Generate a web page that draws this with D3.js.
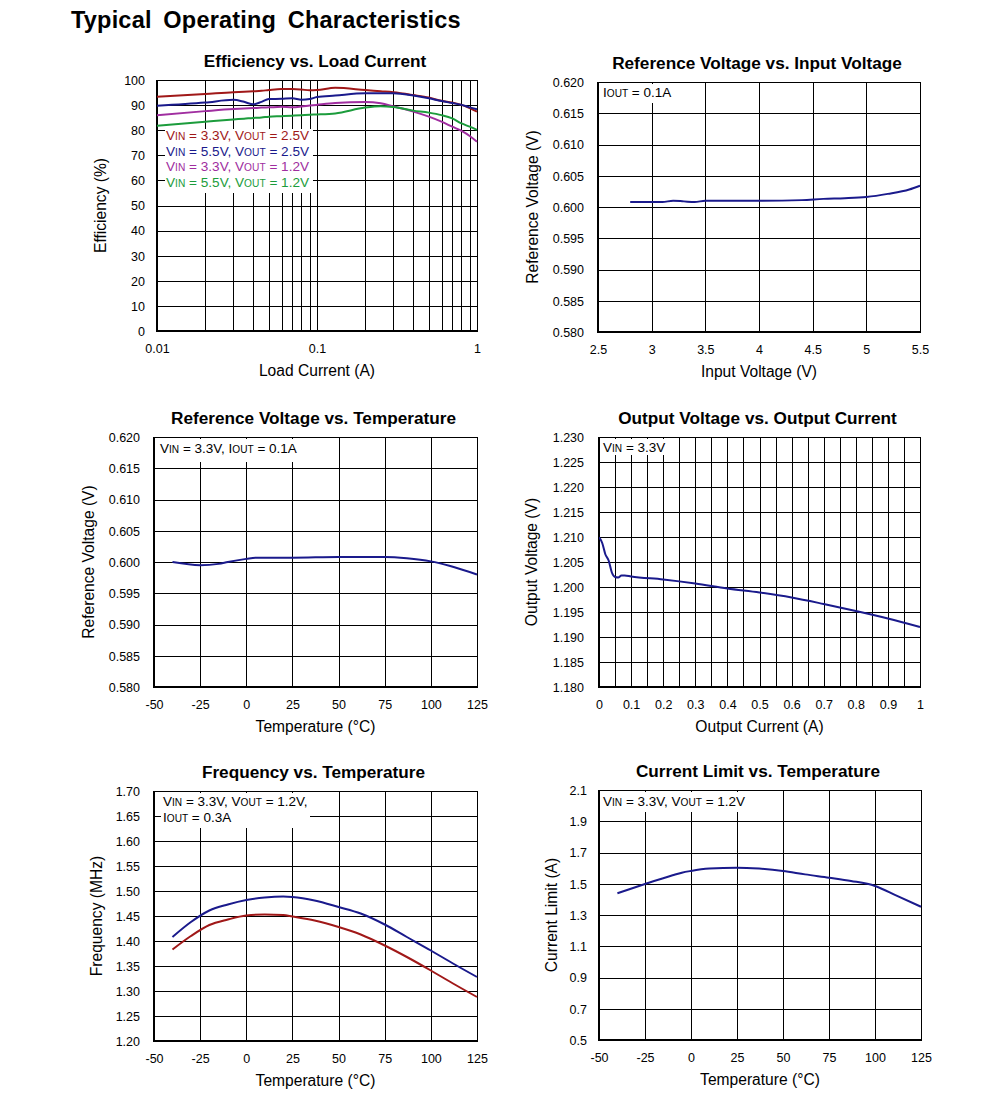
<!DOCTYPE html>
<html><head><meta charset="utf-8">
<script src="https://cdn.jsdelivr.net/npm/d3@7"></script>
<style>
body{margin:0;background:#fff;}
svg{display:block;font-family:"Liberation Sans",Arial,sans-serif;}
</style></head>
<body><svg id="c" width="991" height="1103"></svg>
<script>
// ---------- DATA ----------
const effLoad = [0.01,0.02,0.03,0.035,0.04,0.045,0.05,0.06,0.07,0.08,0.09,0.1,0.13,0.2,0.25,0.3,0.4,0.5,0.6,0.7,0.8,0.9,1.0];
const effVin33Vout25 = [93.3,94.4,95.1,95.3,95.5,95.7,96.0,96.4,96.4,96.2,95.9,96.0,96.9,96.0,95.5,95.1,94.0,93.0,91.7,91.0,90.1,88.8,87.4];
const effVin55Vout25 = [89.7,91.0,92.1,91.3,90.3,91.3,92.4,92.5,92.7,92.1,92.4,93.2,93.8,94.7,94.7,94.7,93.8,92.7,91.6,90.8,90.1,89.1,88.3];
const effVin33Vout12 = [86.0,87.6,88.4,88.6,88.8,89.0,89.1,89.3,89.1,89.4,89.8,90.1,90.8,91.2,90.7,89.5,87.4,85.4,83.4,81.4,79.7,77.7,75.4];
const effVin55Vout12 = [81.8,83.4,84.3,84.6,84.9,85.1,85.4,85.6,85.8,86.0,86.2,86.3,86.7,89.0,89.5,89.2,87.8,87.0,86.0,84.7,82.7,81.4,80.1];
const effLegend = ["VIN = 3.3V, VOUT = 2.5V","VIN = 5.5V, VOUT = 2.5V","VIN = 3.3V, VOUT = 1.2V","VIN = 5.5V, VOUT = 1.2V"];
const effXTicks = [0.01,0.1,1];
const effYTicks = [0,10,20,30,40,50,60,70,80,90,100];

const refVin = [2.8,3.0,3.1,3.2,3.3,3.4,3.5,4.0,4.4,4.6,4.8,5.0,5.2,5.4,5.5];
const refVinVolt = [0.6008,0.6008,0.6008,0.6010,0.6009,0.6008,0.6010,0.6010,0.6011,0.6013,0.6014,0.6016,0.6021,0.6028,0.6034];
const refVinXTicks = [2.5,3,3.5,4,4.5,5,5.5];
const refYTicks = [0.580,0.585,0.590,0.595,0.600,0.605,0.610,0.615,0.620];

const refTemp = [-40,-25,-15,-10,0,5,25,50,75,87,100,110,125];
const refTempVolt = [0.6000,0.5995,0.5997,0.6000,0.6005,0.6007,0.6007,0.6008,0.6008,0.6006,0.6001,0.5994,0.5980];
const tempTicks = [-50,-25,0,25,50,75,100,125];

const voutIout = [0,0.005,0.01,0.02,0.03,0.04,0.05,0.06,0.07,0.08,0.1,0.2,0.3,0.4,0.5,0.6,0.7,0.8,0.9,1.0];
const voutVolt = [1.2099,1.2095,1.2088,1.2065,1.2053,1.2029,1.2020,1.2019,1.2023,1.2023,1.2021,1.2015,1.2007,1.1997,1.1989,1.1979,1.1966,1.1952,1.1937,1.1920];
const voutXTicks = [0,0.1,0.2,0.3,0.4,0.5,0.6,0.7,0.8,0.9,1];
const voutXGrid = [0,0.05,0.1,0.15,0.2,0.25,0.3,0.35,0.4,0.45,0.5,0.55,0.6,0.65,0.7,0.75,0.8,0.85,0.9,0.95,1];
const voutYTicks = [1.180,1.185,1.190,1.195,1.200,1.205,1.210,1.215,1.220,1.225,1.230];

const freqTemp = [-40,-30,-20,-10,0,10,20,25,37,50,62,75,87,100,112,125];
const freqBlue = [1.408,1.438,1.461,1.473,1.482,1.487,1.489,1.488,1.481,1.468,1.455,1.433,1.408,1.381,1.355,1.328];
const freqRed  = [1.383,1.410,1.432,1.443,1.451,1.453,1.452,1.449,1.441,1.428,1.413,1.391,1.368,1.341,1.315,1.288];
const freqYTicks = [1.20,1.25,1.30,1.35,1.40,1.45,1.50,1.55,1.60,1.65,1.70];

const ilimTemp = [-40,-25,-10,-5,0,10,25,37,50,62,75,87,100,112,125];
const ilimAmp = [1.439,1.498,1.554,1.571,1.582,1.597,1.603,1.597,1.582,1.560,1.539,1.518,1.486,1.422,1.353];
const ilimYTicks = [0.5,0.7,0.9,1.1,1.3,1.5,1.7,1.9,2.1];

// ---------- DRAW ----------
const svg = d3.select("#c");
svg.append("rect").attr("width",991).attr("height",1103).attr("fill","#fff");
svg.append("text").attr("x",71).attr("y",28).attr("font-size",23.5).attr("font-weight","bold")
  .attr("letter-spacing",0.2).attr("word-spacing",5).attr("fill","#000").text("Typical Operating Characteristics");

const NAVY="#1a1a8c", RED="#a01818", PURPLE="#a02ea0", GREEN="#1c9c3c";

// rich text with subscripts: VIN, VOUT, IOUT → letter + smaller subscript
function richText(g, x, y, str, size, color){
  const t = g.append("text").attr("x",x).attr("y",y).attr("font-size",size).attr("fill",color);
  const parts = str.split(/(VIN|VOUT|IOUT)/).filter(s=>s.length);
  parts.forEach(p=>{
    if(p==="VIN"||p==="VOUT"||p==="IOUT"){
      t.append("tspan").text(p[0]);
      t.append("tspan").attr("font-size",size*0.75).text(p.slice(1));
    } else t.append("tspan").text(p);
  });
  return t;
}

function panel(o){
  const g = svg.append("g");
  const x = o.xlog ? d3.scaleLog().domain(o.xdom).range([o.x0,o.x1])
                   : d3.scaleLinear().domain(o.xdom).range([o.x0,o.x1]);
  const y = d3.scaleLinear().domain(o.ydom).range([o.y1,o.y0]);
  // grid
  const gx = g.append("g").attr("transform",`translate(0,${o.y1})`)
    .call(d3.axisBottom(x).tickValues(o.xgrid).tickSize(-(o.y1-o.y0)).tickFormat(""));
  const gy = g.append("g").attr("transform",`translate(${o.x0},0)`)
    .call(d3.axisLeft(y).tickValues(o.yticks).tickSize(-(o.x1-o.x0)).tickFormat(""));
  [gx,gy].forEach(a=>{a.select(".domain").remove(); a.selectAll("line").attr("stroke","#000").attr("stroke-width",1).attr("shape-rendering","crispEdges");});
  // frame
  g.append("rect").attr("x",o.x0).attr("y",o.y0).attr("width",o.x1-o.x0).attr("height",o.y1-o.y0)
    .attr("fill","none").attr("stroke","#000").attr("stroke-width",1).attr("shape-rendering","crispEdges");
  g.append("line").attr("x1",o.x0).attr("x2",o.x0).attr("y1",o.y0).attr("y2",o.y1+1).attr("stroke","#000").attr("stroke-width",2);
  g.append("line").attr("x1",o.x0-1).attr("x2",o.x1).attr("y1",o.y1).attr("y2",o.y1).attr("stroke","#000").attr("stroke-width",2);
  // tick labels
  const ax = g.append("g").attr("transform",`translate(0,${o.y1})`)
    .call(d3.axisBottom(x).tickValues(o.xticks).tickSize(0).tickPadding(0).tickFormat(o.xfmt));
  ax.select(".domain").remove();
  ax.selectAll("text").attr("y",22).attr("dy",null).attr("font-size",12.5).attr("font-family",null).attr("fill","#000");
  const ay = g.append("g").attr("transform",`translate(${o.x0},0)`)
    .call(d3.axisLeft(y).tickValues(o.yticks).tickSize(0).tickPadding(0).tickFormat(o.yfmt));
  ay.select(".domain").remove();
  ay.selectAll("text").attr("x",-o.ypad).attr("dy","0.35em").attr("font-size",12.5).attr("font-family",null).attr("fill","#000");
  // titles
  g.append("text").attr("x",(o.x0+o.x1)/2 - 2).attr("y",o.y0-13).attr("text-anchor","middle")
    .attr("font-size",17.2).attr("font-weight","bold").text(o.title);
  g.append("text").attr("x",(o.x0+o.x1)/2).attr("y",o.y1+45).attr("text-anchor","middle")
    .attr("font-size",15.6).text(o.xlabel);
  g.append("text").attr("transform",`translate(${o.x0-o.ylabOff},${(o.y0+o.y1)/2}) rotate(-90)`)
    .attr("text-anchor","middle").attr("font-size",15.6).text(o.ylabel);
  // legend box
  if(o.box){
    g.append("rect").attr("x",o.box[0]).attr("y",o.box[1]).attr("width",o.box[2]).attr("height",o.box[3]).attr("fill","#fff");
  }
  (o.notes||[]).forEach(n=>richText(g,n.x,n.y,n.t,n.s||13.5,n.c||"#000"));
  // series
  const clip = "clip"+Math.random().toString(36).slice(2);
  g.append("clipPath").attr("id",clip).append("rect").attr("x",o.x0).attr("y",o.y0-1).attr("width",o.x1-o.x0+1).attr("height",o.y1-o.y0+2);
  o.series.forEach(s=>{
    const pts = s.x.map((v,i)=>[v,s.y[i]]);
    g.append("path").attr("clip-path",`url(#${clip})`).attr("d",d3.line().x(d=>x(d[0])).y(d=>y(d[1])).curve(d3.curveMonotoneX)(pts))
      .attr("fill","none").attr("stroke",s.c).attr("stroke-width",2);
  });
}

const effXGrid = [0.01,0.02,0.03,0.04,0.05,0.06,0.07,0.08,0.09,0.1,0.2,0.3,0.4,0.5,0.6,0.7,0.8,0.9,1];

panel({x0:157,x1:477,y0:80,y1:331,xlog:true,xdom:[0.01,1],ydom:[0,100],
  xgrid:effXGrid,xticks:effXTicks,yticks:effYTicks,xfmt:d=>String(d),yfmt:d3.format("d"),ypad:12,ylabOff:51,
  title:"Efficiency vs. Load Current",xlabel:"Load Current (A)",ylabel:"Efficiency (%)",
  box:[165,129,148,64],
  notes:[{x:166,y:140,t:effLegend[0],c:RED,s:13.6},{x:166,y:156,t:effLegend[1],c:NAVY,s:13.6},
         {x:166,y:171,t:effLegend[2],c:PURPLE,s:13.6},{x:166,y:187,t:effLegend[3],c:GREEN,s:13.6}],
  series:[{x:effLoad,y:effVin33Vout25,c:RED},{x:effLoad,y:effVin55Vout25,c:NAVY},
          {x:effLoad,y:effVin33Vout12,c:PURPLE},{x:effLoad,y:effVin55Vout12,c:GREEN}]});

panel({x0:598,x1:920,y0:82,y1:332,xdom:[2.5,5.5],ydom:[0.58,0.62],
  xgrid:refVinXTicks,xticks:refVinXTicks,yticks:refYTicks,xfmt:d=>String(d),yfmt:d3.format(".3f"),ypad:14,ylabOff:60,
  title:"Reference Voltage vs. Input Voltage",xlabel:"Input Voltage (V)",ylabel:"Reference Voltage (V)",
  box:[600,84,72,19],
  notes:[{x:603,y:97,t:"IOUT = 0.1A"}],
  series:[{x:refVin,y:refVinVolt,c:NAVY}]});

panel({x0:154,x1:477,y0:437,y1:687,xdom:[-50,125],ydom:[0.58,0.62],
  xgrid:tempTicks,xticks:tempTicks,yticks:refYTicks,xfmt:d=>String(d),yfmt:d3.format(".3f"),ypad:14,ylabOff:60,
  title:"Reference Voltage vs. Temperature",xlabel:"Temperature (°C)",ylabel:"Reference Voltage (V)",
  box:[156,439,142,23],
  notes:[{x:160,y:453,t:"VIN = 3.3V, IOUT = 0.1A"}],
  series:[{x:refTemp,y:refTempVolt,c:NAVY}]});

panel({x0:599,x1:920,y0:437,y1:687,xdom:[0,1],ydom:[1.18,1.23],
  xgrid:voutXGrid,xticks:voutXTicks,yticks:voutYTicks,xfmt:d=>String(d),yfmt:d3.format(".3f"),ypad:15,ylabOff:62,
  title:"Output Voltage vs. Output Current",xlabel:"Output Current (A)",ylabel:"Output Voltage (V)",
  box:[601,439,64,16],
  notes:[{x:603,y:452,t:"VIN = 3.3V"}],
  series:[{x:voutIout,y:voutVolt,c:NAVY}]});

panel({x0:154,x1:477,y0:791,y1:1041,xdom:[-50,125],ydom:[1.2,1.7],
  xgrid:tempTicks,xticks:tempTicks,yticks:freqYTicks,xfmt:d=>String(d),yfmt:d3.format(".2f"),ypad:14,ylabOff:52,
  title:"Frequency vs. Temperature",xlabel:"Temperature (°C)",ylabel:"Frequency (MHz)",
  box:[161,793,149,35],
  notes:[{x:163,y:806,t:"VIN = 3.3V, VOUT = 1.2V,"},{x:163,y:822,t:"IOUT = 0.3A"}],
  series:[{x:freqTemp,y:freqBlue,c:NAVY},{x:freqTemp,y:freqRed,c:RED}]});

panel({x0:599,x1:921,y0:790,y1:1040,xdom:[-50,125],ydom:[0.5,2.1],
  xgrid:tempTicks,xticks:tempTicks,yticks:ilimYTicks,xfmt:d=>String(d),yfmt:d3.format(".1f"),ypad:12,ylabOff:42,
  title:"Current Limit vs. Temperature",xlabel:"Temperature (°C)",ylabel:"Current Limit (A)",
  box:[601,792,150,20],
  notes:[{x:603,y:806,t:"VIN = 3.3V, VOUT = 1.2V"}],
  series:[{x:ilimTemp,y:ilimAmp,c:NAVY}]});
</script></body></html>
